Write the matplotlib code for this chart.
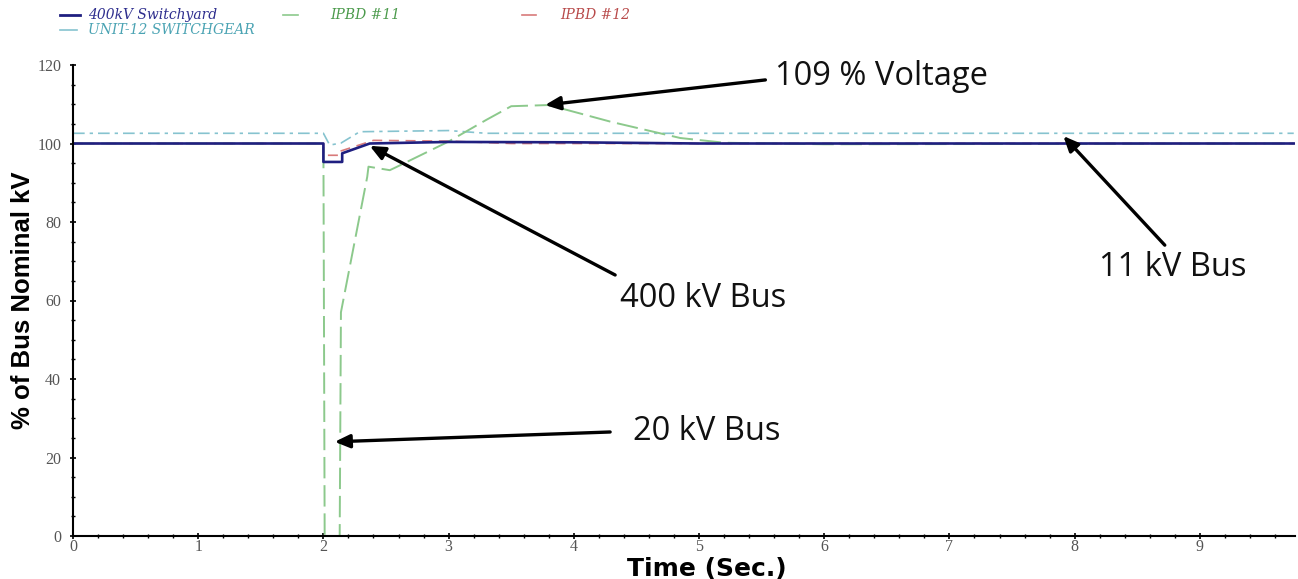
import matplotlib
matplotlib.use("Agg")
import matplotlib.pyplot as plt
from matplotlib.lines import Line2D
from matplotlib.ticker import MultipleLocator

# ---- data ----
series_names = ["400kV Switchyard", "IPBD #11", "IPBD #12", "UNIT-12 SWITCHGEAR"]

t_sw = [0, 2.0, 2.0, 2.15, 2.15, 2.37, 3.0, 4.0, 5.0, 9.75]
v_sw = [100, 100, 95.3, 95.3, 97.5, 100, 100.4, 100.3, 100, 100]

t_ipbd11 = [0, 2.0, 2.01, 2.13, 2.14, 2.35, 2.36, 2.53, 2.57, 3.0, 3.3, 3.5, 3.8, 4.3, 4.85, 5.2, 6.0, 9.75]
v_ipbd11 = [100, 100, 0, 0, 57, 91.5, 94.1, 93.2, 93.8, 100.5, 106, 109.5, 109.8, 105.5, 101.4, 100.2, 99.8, 100]

t_ipbd12 = [0, 2.0, 2.0, 2.13, 2.13, 2.4, 3.0, 3.5, 9.75]
v_ipbd12 = [100, 100, 97, 97, 98, 100.8, 100.6, 100, 100]

t_unit12 = [0, 2.0, 2.05, 2.14, 2.29, 3.0, 3.3, 9.75]
v_unit12 = [102.6, 102.6, 99.6, 100.1, 103, 103.3, 102.6, 102.6]

x_ticks = [0, 1, 2, 3, 4, 5, 6, 7, 8, 9]
y_ticks = [0, 20, 40, 60, 80, 100, 120]

ann_texts = ["109 % Voltage", "400 kV Bus", "11 kV Bus", "20 kV Bus"]
ann_heads = [(3.77, 109.8), (2.37, 99.4), (7.91, 101.9), (2.09, 24.0)]
ann_tails = [(5.53, 116.2), (4.33, 66.5), (8.72, 74.1), (4.29, 26.5)]
ann_text_pos = [(5.61, 117.0), (5.03, 60.6), (8.78, 68.5), (5.06, 26.5)]

# ---- styles ----
c_sw = "#1f1f80"
c_11 = "#8cc98c"
c_12 = "#d87a7a"
c_u12 = "#86c3cf"
txt_cols = ["#2e2e8e", "#4b9a4b", "#b84a4a", "#4aa3b3"]

fig = plt.figure(figsize=(12.98, 5.79), dpi=100)
ax = fig.add_axes([73/1298, 1-536/579, (1295-73)/1298, (536-65)/579])

ax.plot(t_unit12, v_unit12, color=c_u12, lw=1.2, dashes=(7, 3, 2, 3))
ax.plot(t_ipbd12, v_ipbd12, color=c_12, lw=1.2, dashes=(6, 4))
ax.plot(t_ipbd11, v_ipbd11, color=c_11, lw=1.4, dashes=(11, 3.5))
ax.plot(t_sw, v_sw, color=c_sw, lw=1.9)

ax.set_xlim(0, 9.76)
ax.set_ylim(0, 120)
ax.spines["top"].set_visible(False)
ax.spines["right"].set_visible(False)
ax.spines["left"].set_linewidth(1.5)
ax.spines["bottom"].set_linewidth(1.5)
ax.set_xticks(x_ticks)
ax.set_yticks(y_ticks)
ax.xaxis.set_minor_locator(MultipleLocator(0.2))
ax.yaxis.set_minor_locator(MultipleLocator(5))
ax.tick_params(which="major", length=5, width=1.2, direction="inout", colors="black",
               labelcolor="#555555", labelsize=11.5)
ax.tick_params(which="minor", length=3, width=1.0, direction="inout")
for lab in ax.get_xticklabels() + ax.get_yticklabels():
    lab.set_fontfamily("Liberation Serif")
ax.tick_params(axis="x", pad=0)
ax.tick_params(axis="y", pad=6)

ax.set_xlabel("Time (Sec.)", fontsize=18, fontweight="bold", family="DejaVu Sans")
ax.xaxis.set_label_coords((707-73)/1222, -0.045)
ax.set_ylabel("% of Bus Nominal kV", fontsize=18.5, fontweight="bold", family="Liberation Sans")
ax.yaxis.set_label_coords(-(73-35)/1222, 0.5)

for txt, head, tail, tpos in zip(ann_texts, ann_heads, ann_tails, ann_text_pos):
    ax.annotate("", xy=head, xytext=tail,
                arrowprops=dict(arrowstyle="-|>,head_length=0.9,head_width=0.4",
                                color="black", lw=2.4, shrinkA=0, shrinkB=0))
    ha = "left" if txt.startswith("109") else "center"
    ax.text(tpos[0], tpos[1], txt, fontsize=23.5, family="Open Sans", ha=ha, va="center", color="#111111")

# ---- legend (manual, at top) ----
leg_cols = [c_sw, c_11, c_12, c_u12]
leg_lw = [2.0, 1.2, 1.2, 1.2]
leg_line_x = [(60, 80), (283, 298), (522, 536), (60, 77)]
leg_text_x = [88, 330, 560, 88]
leg_y = [15, 15, 15, 29.5]
for name, col, tcol, lw, (x0, x1), tx, yy in zip(series_names, leg_cols, txt_cols, leg_lw,
                                                  leg_line_x, leg_text_x, leg_y):
    fy = 1 - yy/579
    fig.add_artist(Line2D([x0/1298, x1/1298], [fy, fy], color=col, lw=lw))
    fig.text(tx/1298, fy, name, color=tcol, fontsize=10, family="DejaVu Serif",
             style="italic", va="center", ha="left")

fig.savefig("out.png", dpi=100)
